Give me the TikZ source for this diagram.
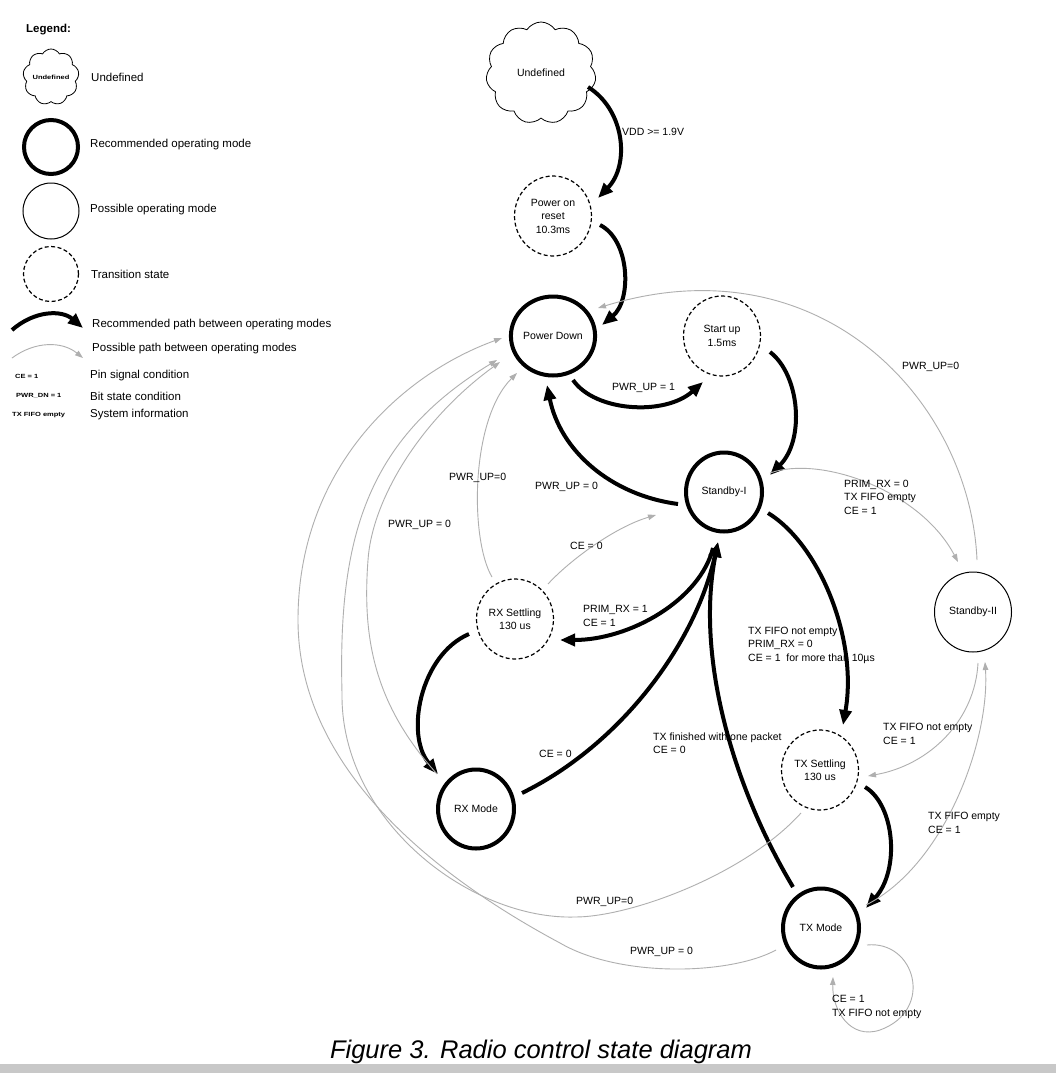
\documentclass[tikz,border=0pt]{standalone}
\usepackage{fontspec}
\usepackage{graphicx}
\setmainfont{Liberation Sans}
\usetikzlibrary{shapes.geometric,shapes.symbols,arrows.meta,calc}
\definecolor{edgegray}{RGB}{175,175,175}
\definecolor{bargray}{RGB}{200,200,200}
\newcommand{\tinylbl}[1]{\scalebox{1.25}[1]{\fontsize{6}{7}\selectfont\bfseries #1}}
\begin{document}
\begin{tikzpicture}[x=1pt,y=-1pt,
  every node/.style={font=\fontsize{10.5}{13.5}\selectfont, inner sep=0pt},
  state/.style={ellipse, minimum width=77pt, minimum height=80pt, align=center},
  recmode/.style={state, draw, line width=4pt, minimum width=76pt, minimum height=79pt},
  posmode/.style={state, draw, line width=1pt},
  transmode/.style={state, draw, line width=1.2pt, dash pattern=on 4pt off 2.5pt},
  recpath/.style={line width=4pt, -{Triangle[length=15pt,width=12pt]}},
  pospath/.style={line width=0.9pt, draw=edgegray, -{Triangle[length=8pt,width=5.5pt,fill=edgegray]}},
  lbl/.style={anchor=west, align=left},
  leg/.style={anchor=west, font=\fontsize{11.5}{13}\selectfont},
]
\fill[white] (0,0) rectangle (1056,1073);
\useasboundingbox (0,0) rectangle (1056,1073);
\fill[bargray] (0,1064) rectangle (1056,1073);

% ---------- legend ----------
\node[anchor=west, font=\bfseries\fontsize{11.5}{13}\selectfont] (legtitle) at (26,30) {Legend:};
\node[cloud, draw, line width=0.8pt, cloud puffs=9, cloud puff arc=120, minimum width=56pt, minimum height=56pt, cloud ignores aspect] (legcloud) at (51,77) {\tinylbl{Undefined}};
\node[leg] (legundt) at (91,77) {Undefined};
\node[recmode, minimum width=54pt, minimum height=54pt] (legrec) at (51,147) {};
\node[leg] (legrect) at (90,145) {Recommended operating mode};
\node[posmode, minimum width=56pt, minimum height=56pt] (legpos) at (51,211) {};
\node[leg] (legpost) at (90,210) {Possible operating mode};
\node[transmode, minimum width=55pt, minimum height=55pt] (legtrans) at (51,274) {};
\node[leg] (legtranst) at (91,274) {Transition state};
\coordinate (lra) at (12,330);
\coordinate (lrb) at (83,328);
\draw[recpath] (lra) .. controls (35,310) and (62,310) .. (lrb);
\node[leg] (legrpt) at (92,325) {Recommended path between operating modes};
\coordinate (lpa) at (12,358);
\coordinate (lpb) at (83,358);
\draw[pospath] (lpa) .. controls (35,341) and (62,341) .. (lpb);
\node[leg] (legppt) at (92,349) {Possible path between operating modes};
\node[anchor=west] (legce) at (15,376) {\tinylbl{CE = 1}};
\node[leg] (legcet) at (90,376) {Pin signal condition};
\node[anchor=west] (legpwr) at (16,396) {\tinylbl{PWR\_DN = 1}};
\node[leg] (legpwrt) at (90,396) {Bit state condition};
\node[anchor=west] (legfifo) at (12,415) {\tinylbl{TX FIFO empty}};
\node[leg] (legfifot) at (90,415) {System information};

% ---------- states ----------
\node[cloud, draw, line width=0.8pt, cloud puffs=11, cloud puff arc=115, minimum width=110pt, minimum height=102pt, cloud ignores aspect] (und) at (541,73) {Undefined};
\node[transmode] (por) at (553,216) {Power on\\reset\\10.3ms};
\node[recmode] (pd) at (553,336) {Power Down};
\node[transmode] (su) at (722,336) {Start up\\1.5ms};
\node[recmode] (sb1) at (724,492) {Standby-I};
\node[posmode] (sb2) at (973,612) {Standby-II};
\node[transmode] (rxs) at (515,619) {RX Settling\\130 us};
\node[recmode] (rx) at (476,809) {RX Mode};
\node[transmode] (txs) at (820,770) {TX Settling\\130 us};
\node[recmode] (tx) at (821,928) {TX Mode};

% ---------- recommended paths ----------
\draw[recpath] ($(und)+(47,14)$) .. controls (625,110) and (630,165) .. ($(por)+(45,-18)$);
\draw[recpath] ($(por)+(47,9)$) .. controls (630,240) and (632,300) .. ($(pd)+(49,-11)$);
\draw[recpath] ($(pd)+(20,44)$) .. controls (595,412) and (665,416) .. ($(su)+(-19,46)$);
\draw[recpath] ($(su)+(48,16)$) .. controls (800,375) and (805,440) .. ($(sb1)+(46,-17)$);
\draw[recpath] ($(sb1)+(-46,12)$) .. controls (610,495) and (560,450) .. ($(pd)+(-6,49)$);
\draw[recpath] ($(sb1)+(44,21)$) .. controls (820,545) and (858,640) .. ($(txs)+(23,-45)$);
\draw[recpath] ($(txs)+(45,17)$) .. controls (895,805) and (900,870) .. ($(tx)+(45,-20)$);
\draw[recpath] ($(tx)+(-28,-41)$) .. controls (735,790) and (695,660) .. ($(sb1)+(-6,50)$);
\draw[recpath] ($(rx)+(46,-16)$) .. controls (620,745) and (695,645) .. ($(sb1)+(-6,50)$);
\draw[recpath] ($(sb1)+(-11,56)$) .. controls (700,600) and (630,640) .. ($(rxs)+(45,21)$);
\draw[recpath] ($(rxs)+(-46,15)$) .. controls (420,655) and (405,735) .. ($(rx)+(-38,-35)$);

% ---------- possible paths ----------
\draw[pospath] ($(sb2)+(4,-52)$) .. controls (970,400) and (820,240) .. ($(pd)+(45,-28)$);
\draw[pospath] ($(sb1)+(46,-19)$) .. controls (820,455) and (920,490) .. ($(sb2)+(-15,-50)$);
\draw[pospath] ($(sb2)+(5,51)$) .. controls (975,720) and (930,765) .. ($(txs)+(48,6)$);
\draw[pospath] ($(tx)+(45,-23)$) .. controls (945,865) and (990,740) .. ($(sb2)+(12,50)$);
\draw[pospath] ($(tx)+(46,17)$) .. controls (915,940) and (935,1010) .. (880,1030) .. controls (850,1040) and (832,1010) .. ($(tx)+(12,49)$);
\draw[pospath] ($(rxs)+(33,-35)$) .. controls (570,560) and (615,527) .. ($(sb1)+(-68,23)$);
\draw[pospath] ($(rxs)+(-23,-42)$) .. controls (470,540) and (470,420) .. ($(pd)+(-36,37)$);
\draw[pospath] ($(rx)+(-39,-35)$) .. controls (375,705) and (362,640) .. (368,560) .. controls (372,500) and (420,420) .. ($(pd)+(-53,26)$);
\draw[pospath] ($(txs)+(-19,43)$) .. controls (745,875) and (630,917) .. (575,917) .. controls (470,920) and (340,820) .. (342,693) .. controls (338,540) and (365,440) .. ($(pd)+(-56,24)$);
\draw[pospath] ($(tx)+(-45,22)$) .. controls (730,975) and (620,978) .. (560,943) .. controls (420,868) and (298,760) .. (298,620) .. controls (298,470) and (400,375) .. ($(pd)+(-51,2)$);

% ---------- labels ----------
\node[lbl] (lvdd) at (622,132) {VDD >= 1.9V};
\node[lbl] (lpu1) at (612,388) {PWR\_UP = 1};
\node[lbl] (lpu0a) at (535,487) {PWR\_UP = 0};
\node[lbl] (lpu0b) at (902,367) {PWR\_UP=0};
\node[lbl] (lprim0) at (844,497) {PRIM\_RX = 0\\TX FIFO empty\\CE = 1};
\node[lbl] (lpu0c) at (449,478) {PWR\_UP=0};
\node[lbl] (lpu0d) at (388,525) {PWR\_UP = 0};
\node[lbl] (lce0a) at (570,546) {CE = 0};
\node[lbl] (lprim1) at (583,616) {PRIM\_RX = 1\\CE = 1};
\node[lbl] (ltxf) at (748,645) {TX FIFO not empty\\PRIM\_RX = 0\\CE = 1~~for more than 10µs};
\node[lbl] (ltxfin) at (653,743) {TX finished with one packet\\CE = 0};
\node[lbl] (lce0b) at (539,754) {CE = 0};
\node[lbl] (ltxne) at (883,734) {TX FIFO not empty\\CE = 1};
\node[lbl] (ltxe) at (928,823) {TX FIFO empty\\CE = 1};
\node[lbl] (lpu0e) at (576,902) {PWR\_UP=0};
\node[lbl] (lpu0f) at (630,952) {PWR\_UP = 0};
\node[lbl] (lloop) at (832,1007) {CE = 1\\TX FIFO not empty};

% ---------- caption ----------
\node[anchor=base, font=\itshape\fontsize{25.5}{30}\selectfont] (title) at (541,1058) {Figure 3. Radio control state diagram};
\end{tikzpicture}
\end{document}
